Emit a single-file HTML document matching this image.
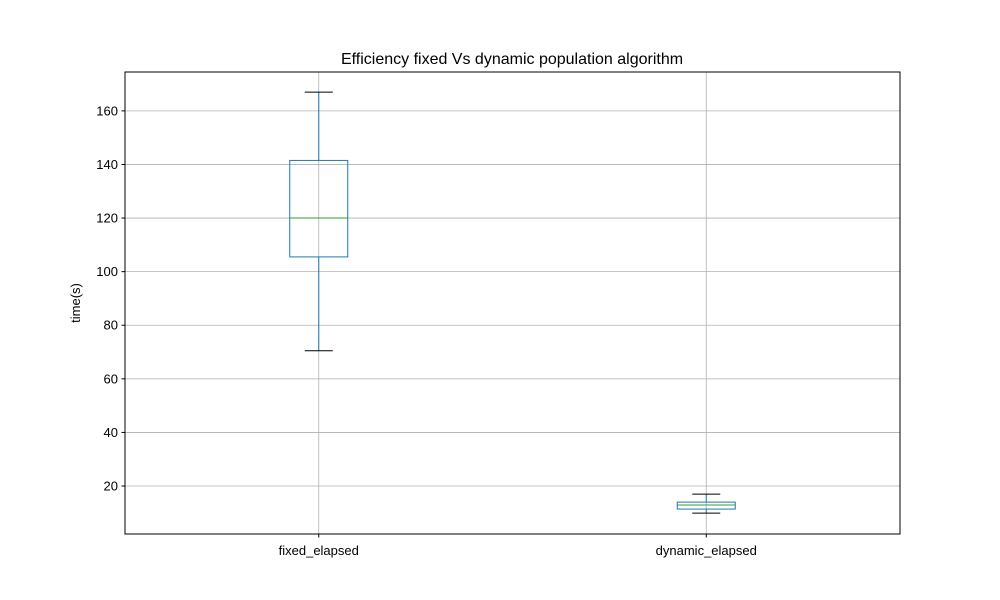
<!DOCTYPE html>
<html><head><meta charset="utf-8"><style>body{margin:0;background:#fff}svg{display:block;font-family:"Liberation Sans","DejaVu Sans",sans-serif}</style></head>
<body>
<svg id="c" width="1000" height="600">
<rect x="0" y="0" width="1000" height="600" fill="#fff"/>
<text x="512" y="64" text-anchor="middle" font-size="16">Efficiency fixed Vs dynamic population algorithm</text>
<g id="grid"></g><g id="boxes"></g>
<rect x="125" y="72" width="775" height="462" fill="none" stroke="#000" stroke-width="1"/>
<text transform="translate(80,303) rotate(-90)" text-anchor="middle" font-size="13">time(s)</text>
</svg>
<script>
const categories=["fixed_elapsed","dynamic_elapsed"];
const whiskerLow=[70.5,9.9];
const q1=[105.5,11.4];
const median=[120,12.9];
const q3=[141.5,14.0];
const whiskerHigh=[167,17.0];
const yTicks=[20,40,60,80,100,120,140,160];
const yMin=2.1,yMax=174.5;
const L=125,R=900,T=72,B=534;
const ns="http://www.w3.org/2000/svg";
function y(v){return B-(v-yMin)/(yMax-yMin)*(B-T);}
function x(i){return L+(R-L)*(i+0.5)/categories.length;}
function mk(t,a,p){const e=document.createElementNS(ns,t);for(const k in a)e.setAttribute(k,a[k]);p.appendChild(e);return e;}
const g=document.getElementById('grid'),bx=document.getElementById('boxes');
yTicks.forEach(v=>{
 const l=mk('line',{x1:L,x2:R,y1:y(v),y2:y(v),stroke:'#b0b0b0','stroke-width':0.8},g);
 
 
 mk('line',{x1:L-3.5,x2:L,y1:y(v),y2:y(v),stroke:'#000'},g);
 const t=mk('text',{x:L-7,y:y(v)+4.5,'text-anchor':'end','font-size':13},g);t.textContent=v;
 
 
});
categories.forEach((c,i)=>{
 const cx=x(i);
 const l=mk('line',{x1:cx,x2:cx,y1:T,y2:B,stroke:'#b0b0b0','stroke-width':0.8},g);
 
 
 mk('line',{x1:cx,x2:cx,y1:B,y2:B+3.5,stroke:'#000'},g);
 const t=mk('text',{x:cx,y:B+21,'text-anchor':'middle','font-size':13},g);t.textContent=c;
 
 
 const hw=29,cw=14;
 mk('line',{x1:cx,x2:cx,y1:y(q3[i]),y2:y(whiskerHigh[i]),stroke:'#1f77b4'},bx);
 mk('line',{x1:cx,x2:cx,y1:y(q1[i]),y2:y(whiskerLow[i]),stroke:'#1f77b4'},bx);
 mk('line',{x1:cx-cw,x2:cx+cw,y1:y(whiskerHigh[i]),y2:y(whiskerHigh[i]),stroke:'#000'},bx);
 mk('line',{x1:cx-cw,x2:cx+cw,y1:y(whiskerLow[i]),y2:y(whiskerLow[i]),stroke:'#000'},bx);
 const b=mk('rect',{x:cx-hw,y:y(q3[i]),width:2*hw,height:y(q1[i])-y(q3[i]),fill:'none',stroke:'#1f77b4'},bx);
 
 
 const m=mk('line',{x1:cx-hw,x2:cx+hw,y1:y(median[i]),y2:y(median[i]),stroke:'#2ca02c'},bx);
 
 
});
</script>
</body></html>
